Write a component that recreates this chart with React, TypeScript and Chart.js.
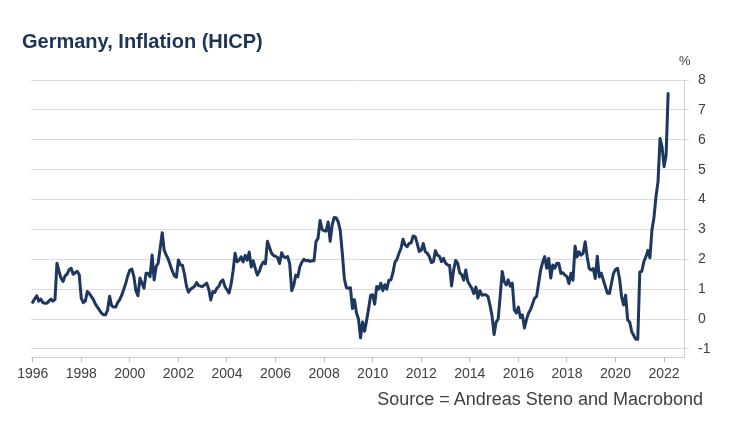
import React, { useEffect, useRef } from "react";
import { Chart, registerables } from "chart.js";

Chart.register(...registerables);

const TITLE = "Germany, Inflation (HICP)";
const SOURCE = "Source = Andreas Steno and Macrobond";
const UNIT = "%";

const startYear = 1996;
const v1996 = [0.56, 0.68, 0.78, 0.6, 0.67, 0.55, 0.53, 0.53, 0.6, 0.67, 0.6, 0.65];
const v1997 = [1.87, 1.6, 1.37, 1.26, 1.45, 1.5, 1.65, 1.7, 1.5, 1.55, 1.6, 1.48];
const v1998 = [0.7, 0.55, 0.6, 0.92, 0.85, 0.75, 0.65, 0.5, 0.4, 0.3, 0.2, 0.14];
const v1999 = [0.14, 0.3, 0.76, 0.45, 0.4, 0.4, 0.55, 0.65, 0.8, 1.0, 1.2, 1.45];
const v2000 = [1.64, 1.67, 1.42, 0.95, 0.78, 1.37, 1.2, 1.03, 1.53, 1.53, 1.42, 2.14];
const v2001 = [1.31, 1.76, 1.87, 2.37, 2.89, 2.3, 2.14, 2.0, 1.8, 1.6, 1.45, 1.4];
const v2002 = [1.98, 1.81, 1.8, 1.5, 1.1, 0.9, 1.0, 1.05, 1.1, 1.22, 1.12, 1.1];
const v2003 = [1.09, 1.15, 1.2, 1.0, 0.64, 0.92, 0.89, 1.03, 1.1, 1.25, 1.31, 1.09];
const v2004 = [0.98, 0.87, 1.15, 1.6, 2.2, 1.92, 1.97, 2.08, 1.91, 2.13, 1.97, 2.24];
const v2005 = [1.74, 1.95, 1.69, 1.47, 1.6, 1.8, 1.91, 1.85, 2.6, 2.4, 2.2, 2.13];
const v2006 = [2.1, 2.06, 1.86, 2.22, 2.08, 2.06, 2.09, 1.85, 0.95, 1.13, 1.47, 1.41];
const v2007 = [1.75, 1.9, 2.0, 1.95, 1.97, 1.93, 1.95, 1.95, 2.6, 2.7, 3.3, 3.0];
const v2008 = [2.95, 2.95, 3.25, 2.6, 3.15, 3.4, 3.38, 3.25, 2.95, 2.2, 1.35, 1.05];
const v2009 = [1.03, 1.05, 0.35, 0.65, 0.2, 0.0, -0.63, -0.1, -0.41, -0.05, 0.35, 0.8];
const v2010 = [0.81, 0.5, 1.09, 1.0, 1.2, 0.95, 1.15, 1.0, 1.3, 1.31, 1.55, 1.9];
const v2011 = [2.0, 2.2, 2.37, 2.67, 2.48, 2.42, 2.53, 2.55, 2.78, 2.76, 2.53, 2.26];
const v2012 = [2.3, 2.53, 2.26, 2.2, 2.09, 1.89, 1.92, 2.29, 2.14, 2.1, 1.92, 2.03];
const v2013 = [1.87, 1.81, 1.8, 1.11, 1.64, 1.96, 1.87, 1.55, 1.48, 1.3, 1.64, 1.26];
const v2014 = [1.14, 1.03, 0.85, 1.07, 0.7, 0.95, 0.8, 0.81, 0.81, 0.75, 0.45, 0.1];
const v2015 = [-0.52, -0.1, 0.0, 0.76, 1.59, 1.26, 1.14, 1.31, 1.1, 1.2, 0.31, 0.2];
const v2016 = [0.4, 0.05, 0.14, -0.3, -0.02, 0.2, 0.31, 0.5, 0.7, 0.75, 1.2, 1.64];
const v2017 = [1.9, 2.09, 1.7, 2.03, 1.37, 1.81, 1.7, 1.87, 1.86, 1.53, 1.55, 1.47];
const v2018 = [1.42, 1.19, 1.53, 1.3, 2.44, 2.08, 2.25, 2.14, 2.2, 2.59, 2.08, 1.69];
const v2019 = [1.64, 1.69, 1.36, 2.1, 1.41, 1.53, 1.3, 1.08, 0.86, 0.86, 1.2, 1.53];
const v2020 = [1.66, 1.7, 1.35, 0.75, 0.47, 0.8, -0.03, -0.1, -0.42, -0.55, -0.68, -0.68];
const v2021 = [1.58, 1.6, 1.92, 2.08, 2.3, 2.05, 2.98, 3.4, 4.1, 4.6, 6.04, 5.76];
const v2022 = [5.1, 5.49, 7.55];

const yearly = [
  v1996, v1997, v1998, v1999, v2000, v2001, v2002, v2003, v2004, v2005,
  v2006, v2007, v2008, v2009, v2010, v2011, v2012, v2013, v2014, v2015,
  v2016, v2017, v2018, v2019, v2020, v2021, v2022,
];

const xTickYears = [1996, 1998, 2000, 2002, 2004, 2006, 2008, 2010, 2012, 2014, 2016, 2018, 2020, 2022];
const yTickValues = [-1, 0, 1, 2, 3, 4, 5, 6, 7, 8];

const FONT = "'Liberation Sans', Arial, sans-serif";

export default function App() {
  const canvasRef = useRef<HTMLCanvasElement | null>(null);

  useEffect(() => {
    if (!canvasRef.current) return;
    const points: { x: number; y: number }[] = [];
    yearly.forEach((vals, yi) => {
      vals.forEach((v, m) => points.push({ x: startYear + yi + m / 12, y: v }));
    });

    const chart = new Chart(canvasRef.current, {
      type: "line",
      data: {
        datasets: [
          {
            data: points,
            borderColor: "#1e375f",
            borderWidth: 3,
            borderJoinStyle: "round",
            borderCapStyle: "round",
            pointRadius: 0,
            tension: 0,
            fill: false,
          },
        ],
      },
      options: {
        animation: false,
        responsive: false,
        layout: { padding: { left: 31, top: 80, right: 0, bottom: 0 } },
        plugins: { legend: { display: false }, tooltip: { enabled: false }, title: { display: false } },
        scales: {
          x: {
            type: "linear",
            min: 1995.93,
            max: 2022.82,
            afterBuildTicks: (s: any) => {
              s.ticks = xTickYears.map((v) => ({ value: v }));
            },
            afterFit: (s: any) => {
              s.height = 71;
            },
            grid: { drawOnChartArea: false, drawTicks: true, tickLength: 5, color: "#bdbdbd" },
            border: { display: true, color: "#cfcfcf" },
            ticks: {
              autoSkip: false,
              maxRotation: 0,
              padding: 4,
              color: "#404040",
              font: { family: FONT, size: 14 },
              callback: (v: any) => String(v),
            },
          },
          y: {
            position: "right",
            min: -1.27,
            max: 8,
            afterBuildTicks: (s: any) => {
              s.ticks = yTickValues.map((v) => ({ value: v }));
            },
            afterFit: (s: any) => {
              s.width = 50;
            },
            grid: { color: "#dcdcdc", drawTicks: true, tickLength: 5 },
            border: { display: true, color: "#cfcfcf" },
            ticks: {
              padding: 9,
              color: "#404040",
              font: { family: FONT, size: 14 },
              callback: (v: any) => String(v),
            },
          },
        },
      },
    });
    return () => chart.destroy();
  }, []);

  return (
    <div style={{ position: "absolute", left: 0, top: 0, width: 734, height: 428, background: "#fff", overflow: "hidden" }}>
      <canvas ref={canvasRef} width={734} height={428} style={{ position: "absolute", left: 0, top: 0, width: 734, height: 428 }} />
      <div style={{ position: "absolute", left: 22, top: 30, font: `bold 20px ${FONT}`, color: "#1f3356", whiteSpace: "nowrap" }}>
        {TITLE}
      </div>
      <div style={{ position: "absolute", left: 679, top: 53, font: `13px ${FONT}`, color: "#404040" }}>{UNIT}</div>
      <div style={{ position: "absolute", right: 31, top: 389, font: `18px ${FONT}`, color: "#404040", whiteSpace: "nowrap" }}>
        {SOURCE}
      </div>
    </div>
  );
}
